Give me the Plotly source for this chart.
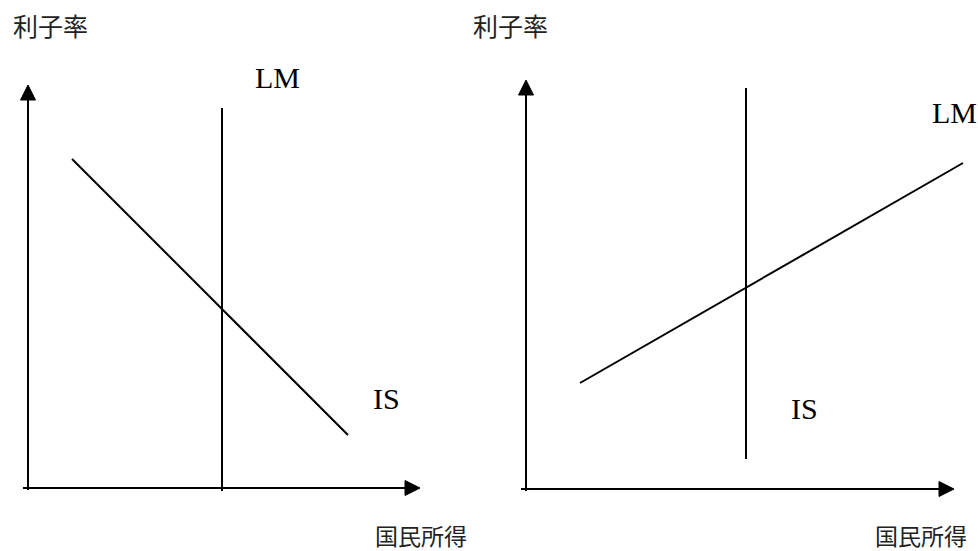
import plotly.graph_objects as go

# ---- data (panel coordinates: origin at the axes crossing, 1 unit ~ 1 px) ----
# Left panel: vertical LM, downward-sloping IS
left_axis_x_end = 392
left_axis_y_end = 403
left_lm_x = [194, 194]
left_lm_y = [-3, 380]
left_is_x = [44, 320]
left_is_y = [329, 53]

# Right panel: vertical IS, upward-sloping LM
right_axis_x_end = 428
right_axis_y_end = 409
right_is_x = [220, 220]
right_is_y = [30, 401]
right_lm_x = [54, 437]
right_lm_y = [106, 326]

y_label = "利子率"
x_label = "国民所得"

W, H = 978, 551
head = 15  # arrow head size (style)

fig = go.Figure()

line_style = dict(color="black", width=2)


def add_panel(xa, ya, x_end, y_end, curves):
    # y axis
    fig.add_trace(go.Scatter(x=[0, 0], y=[-2, y_end - head], mode="lines",
                             line=line_style, xaxis=xa, yaxis=ya, hoverinfo="skip"))
    fig.add_trace(go.Scatter(x=[-head / 2, head / 2, 0, -head / 2],
                             y=[y_end - head, y_end - head, y_end, y_end - head],
                             mode="lines", fill="toself", fillcolor="black",
                             line=dict(color="black", width=1), xaxis=xa, yaxis=ya, hoverinfo="skip"))
    # x axis
    fig.add_trace(go.Scatter(x=[-5, x_end - head], y=[0, 0], mode="lines",
                             line=line_style, xaxis=xa, yaxis=ya, hoverinfo="skip"))
    fig.add_trace(go.Scatter(x=[x_end - head, x_end - head, x_end, x_end - head],
                             y=[-head / 2, head / 2, 0, -head / 2],
                             mode="lines", fill="toself", fillcolor="black",
                             line=dict(color="black", width=1), xaxis=xa, yaxis=ya, hoverinfo="skip"))
    for cx, cy in curves:
        fig.add_trace(go.Scatter(x=cx, y=cy, mode="lines", line=line_style,
                                 xaxis=xa, yaxis=ya, hoverinfo="skip"))


add_panel("x", "y", left_axis_x_end, left_axis_y_end,
          [(left_lm_x, left_lm_y), (left_is_x, left_is_y)])
add_panel("x2", "y2", right_axis_x_end, right_axis_y_end,
          [(right_is_x, right_is_y), (right_lm_x, right_lm_y)])

serif = dict(family="Liberation Serif, Times New Roman, serif", size=30, color="black")
cjk = dict(family="Noto Sans CJK JP, sans-serif", size=23, color="#222")
cjk_top = dict(family="Noto Sans CJK JP, sans-serif", size=25, color="#222")

annotations = [
    # left panel
    dict(x=22, y=463, text=y_label, font=cjk_top, xref="x", yref="y"),
    dict(x=393, y=-47, text=x_label, font=cjk, xref="x", yref="y"),
    dict(x=249, y=411, text="LM", font=serif, xref="x", yref="y"),
    dict(x=358, y=90, text="IS", font=serif, xref="x", yref="y"),
    # right panel
    dict(x=-16, y=464, text=y_label, font=cjk_top, xref="x2", yref="y2"),
    dict(x=395, y=-46, text=x_label, font=cjk, xref="x2", yref="y2"),
    dict(x=428, y=377, text="LM", font=serif, xref="x2", yref="y2"),
    dict(x=278, y=81, text="IS", font=serif, xref="x2", yref="y2"),
]
for a in annotations:
    a.update(showarrow=False, xanchor="center", yanchor="middle", borderpad=0)

axis_common = dict(visible=False, showgrid=False, zeroline=False, fixedrange=True)

fig.update_layout(
    width=W, height=H,
    margin=dict(l=0, r=0, t=0, b=0),
    paper_bgcolor="white", plot_bgcolor="white",
    showlegend=False,
    annotations=annotations,
    xaxis=dict(domain=[0, 489 / W], range=[-28, 461], **axis_common),
    yaxis=dict(domain=[0, 1], range=[-63, 488], **axis_common),
    xaxis2=dict(domain=[489 / W, 1], range=[-37, 452], anchor="y2", **axis_common),
    yaxis2=dict(domain=[0, 1], range=[-62, 489], anchor="x2", **axis_common),
)

fig.write_html(
    "out.html",
    config={"staticPlot": True},
    post_script="document.body.style.margin='0';document.body.style.overflow='hidden';",
)
